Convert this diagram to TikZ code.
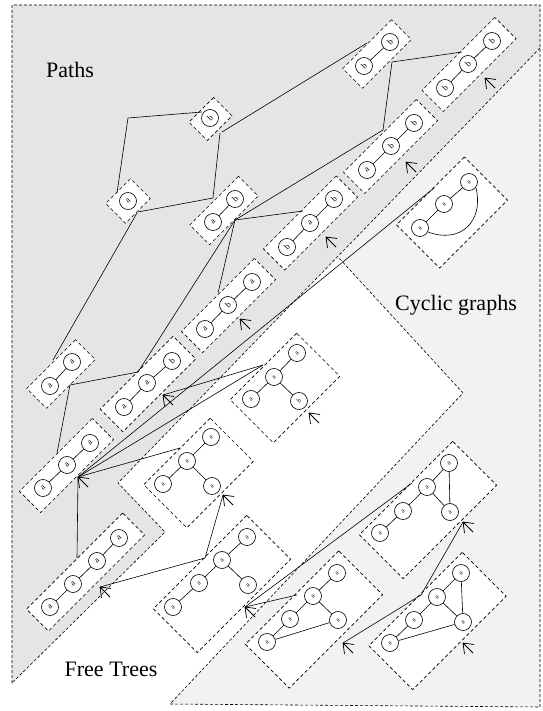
\documentclass[tikz,border=0pt]{standalone}
\usepackage{fontspec}
\setmainfont{Liberation Serif}
\definecolor{pathsgray}{gray}{0.898}
\definecolor{cyclgray}{gray}{0.949}
\begin{document}
\begin{tikzpicture}[x=1pt,y=-1pt,
  region/.style={draw, dash pattern=on 3pt off 2pt, line width=0.6pt},
  gbox/.style={draw, dash pattern=on 3.5pt off 2.5pt, line width=0.6pt, fill=white,
    rotate=45, inner sep=0pt, minimum height=28pt},
  vtx/.style={circle, draw, fill=white, line width=0.6pt, minimum size=17pt,
    inner sep=0pt, font=\fontsize{8.5}{8.5}\selectfont, rotate=45},
  tvtx/.style={vtx, font=\fontsize{6.5}{6.5}\selectfont},
  conn/.style={line width=0.6pt},
  ptr/.style={line width=0.75pt},
  lbl/.style={font=\fontsize{22}{24}\selectfont}]

\useasboundingbox (0,0) rectangle (542,711);
\fill[white] (0,0) rectangle (542,711);

% class regions
\fill[pathsgray] (12,5) -- (540,5) -- (540,48) -- (118,483) -- (165,532) -- (12,683) -- cycle;
\fill[cyclgray] (540,48) -- (338,257) -- (463,393) -- (170,704) -- (540,707) -- cycle;
\draw[region] (12,683) -- (12,5) -- (540,5) -- (540,707) -- (170,704) -- (463,393) -- (338,257);
\draw[region] (540,48) -- (118,483) -- (165,532) -- (12,683);

\node[lbl] (lpaths) at (70,70) {Paths};
\node[lbl] (lcyc) at (456,305) {Cyclic graphs};
\node[lbl] (ltree) at (111,669) {Free Trees};

% pattern boxes
\node[gbox, minimum width=35pt, minimum height=26pt] (bxb) at (210.5,119) {};
\node[gbox, minimum width=35pt] (bxa) at (128,201) {};
\node[gbox, minimum width=69pt] (bxab) at (224,210.5) {};
\node[gbox, minimum width=69pt] (bxbb) at (377,54) {};
\node[gbox, minimum width=69pt] (bxaa) at (61,374) {};
\node[gbox, minimum width=103pt, minimum height=30pt] (bxbab) at (310.5,223) {};
\node[gbox, minimum width=103pt, minimum height=30pt] (bxaba) at (228.5,305.5) {};
\node[gbox, minimum width=103pt, minimum height=32pt] (bxaab) at (148,384) {};
\node[gbox, minimum width=103pt, minimum height=30pt] (bxaaa) at (66.5,465.5) {};
\node[gbox, minimum width=103pt, minimum height=30pt] (bxbbb) at (469,64.5) {};
\node[gbox, minimum width=103pt, minimum height=30pt] (bxabb) at (390.5,146.5) {};
\node[gbox, minimum width=136pt, minimum height=31pt] (bxaaaa) at (85.5,572) {};
\node[gbox, minimum width=94pt, minimum height=61pt] (bxt1) at (285,388) {};
\node[gbox, minimum width=94pt, minimum height=61pt] (bxt2) at (198.5,473) {};
\node[gbox, minimum width=132pt, minimum height=62pt] (bxt3) at (222,584) {};
\node[gbox, minimum width=96pt, minimum height=61pt] (bxc1) at (452,212.5) {};
\node[gbox, minimum width=132pt, minimum height=62pt] (bxc2) at (428,510) {};
\node[gbox, minimum width=132pt, minimum height=62pt] (bxc3) at (314,619.5) {};
\node[gbox, minimum width=132pt, minimum height=62pt] (bxc4) at (437.5,621) {};

% lattice connectors
\coordinate (ka1) at (117,193);
\coordinate (kb1) at (128,118);
\coordinate (kb2) at (202,112);
\coordinate (kb3) at (222,132);
\coordinate (kbb) at (367,43);
\coordinate (ka2) at (138,212);
\coordinate (kab) at (213,198);
\coordinate (kb4) at (220,133);
\coordinate (ka3) at (137,213);
\coordinate (kaa) at (53,360);
\coordinate (jab) at (235,220);
\coordinate (kbab) at (303,211);
\coordinate (kabb) at (383,130);
\coordinate (kaba) at (218,293);
\coordinate (kaab) at (138,372);
\coordinate (kbb2) at (392,62);
\coordinate (kbbb) at (462,52);
\coordinate (jaa) at (70,385);
\coordinate (kaaa) at (57,453);
\coordinate (jaaa) at (78,477);
\coordinate (kaaaa) at (77,558);
\coordinate (kt2) at (180,448);
\coordinate (kt1) at (263,365);
\coordinate (kc1) at (434,188);
\coordinate (maab) at (163,395);
\coordinate (jt3) at (205,558);
\coordinate (maaaa) at (100,587);
\coordinate (mt2) at (223,495);
\coordinate (mt3) at (245,607);
\coordinate (kc3) at (297,595);
\coordinate (kc2) at (412,483);
\coordinate (jc4) at (421,595);
\coordinate (mc3) at (343,643);
\coordinate (mc2) at (463,522);
\coordinate (mbbb) at (485,78);
\coordinate (mabb) at (406,162);
\coordinate (maba) at (240,319);
\coordinate (mt1) at (309,413);
\coordinate (mc4) at (463,643);
\coordinate (mbab) at (326,237);

\draw[conn] (ka1) -- (kb1) -- (kb2);
\draw[conn] (kb3) -- (kbb);
\draw[conn] (ka2) -- (kab) -- (kb4);
\draw[conn] (ka3) -- (kaa);
\draw[conn] (jab) -- (kbab);
\draw[conn] (jab) -- (kabb);
\draw[conn] (jab) -- (kaba);
\draw[conn] (jab) -- (kaab);
\draw[conn] (kabb) -- (kbb2) -- (kbbb);
\draw[conn] (kaab) -- (jaa) -- (kaaa);
\draw[conn] (kaaaa) -- (jaaa);
\draw[conn] (kt2) -- (jaaa);
\draw[conn] (kt1) -- (jaaa);
\draw[conn] (kc1) -- (jaaa);
\draw[conn] (kt1) -- (maab);
\draw[conn] (maaaa) -- (jt3) -- (mt2);
\draw[conn] (kc3) -- (mt3);
\draw[conn] (kc2) -- (mt3);
\draw[conn] (mc3) -- (jc4) -- (mc2);

% pointer marks
\foreach \p in {jaaa,maab,maaaa,mt2,mt3,mc3,mc2,mbbb,mabb,maba,mt1,mc4,mbab}
  \draw[ptr] (\p) -- ++(11,1.5) (\p) -- ++(1.5,11) (\p) -- ++(10,10);

% single vertices
\node[vtx] (vb) at (210,118) {b};
\node[vtx] (va) at (128,201) {a};
% a-b
\node[vtx] (ab1) at (213,222) {a};
\node[vtx] (ab2) at (235,199) {b};
\draw[conn] (ab1) -- (ab2);
% b-b
\node[vtx] (bb1) at (364,66) {b};
\node[vtx] (bb2) at (390,42) {b};
\draw[conn] (bb1) -- (bb2);
% a-a
\node[vtx] (aa1) at (50,386) {a};
\node[vtx] (aa2) at (72,362) {a};
\draw[conn] (aa1) -- (aa2);
% b-a-b
\node[vtx] (bab1) at (287,247) {b};
\node[vtx] (bab2) at (310,223) {a};
\node[vtx] (bab3) at (334,199) {b};
\draw[conn] (bab1) -- (bab2) -- (bab3);
% a-b-a
\node[vtx] (aba1) at (205,329) {a};
\node[vtx] (aba2) at (228,305) {b};
\node[vtx] (aba3) at (252,282) {a};
\draw[conn] (aba1) -- (aba2) -- (aba3);
% a-a-b
\node[vtx] (aab1) at (124,407) {a};
\node[vtx] (aab2) at (147,383) {a};
\node[vtx] (aab3) at (172,361) {b};
\draw[conn] (aab1) -- (aab2) -- (aab3);
% a-a-a
\node[vtx] (aaa1) at (43,488) {a};
\node[vtx] (aaa2) at (67,465) {a};
\node[vtx] (aaa3) at (90,443) {a};
\draw[conn] (aaa1) -- (aaa2) -- (aaa3);
% b-b-b
\node[vtx] (bbb1) at (445,88) {b};
\node[vtx] (bbb2) at (468,64) {b};
\node[vtx] (bbb3) at (492,41) {b};
\draw[conn] (bbb1) -- (bbb2) -- (bbb3);
% a-b-b
\node[vtx] (abb1) at (367,170) {a};
\node[vtx] (abb2) at (391,146) {b};
\node[vtx] (abb3) at (414,123) {b};
\draw[conn] (abb1) -- (abb2) -- (abb3);
% a-a-a-a
\node[vtx] (q1) at (50,607) {a};
\node[vtx] (q2) at (73,584) {a};
\node[vtx] (q3) at (97,561) {a};
\node[vtx] (q4) at (119,538) {a};
\draw[conn] (q1) -- (q2) -- (q3) -- (q4);

% trees
\node[tvtx] (t11) at (251,399) {a};
\node[tvtx] (t12) at (274,377) {a};
\node[tvtx] (t13) at (297,353) {a};
\node[tvtx] (t14) at (299,401) {b};
\draw[conn] (t11) -- (t12) -- (t13) (t12) -- (t14);
\node[tvtx] (t21) at (163,484) {a};
\node[tvtx] (t22) at (187,461) {a};
\node[tvtx] (t23) at (211,437) {a};
\node[tvtx] (t24) at (212,486) {a};
\draw[conn] (t21) -- (t22) -- (t23) (t22) -- (t24);
\node[tvtx] (t31) at (173,607) {a};
\node[tvtx] (t32) at (199,583) {a};
\node[tvtx] (t33) at (222,560) {a};
\node[tvtx] (t34) at (247,537) {a};
\node[tvtx] (t35) at (248,585) {a};
\draw[conn] (t31) -- (t32) -- (t33) -- (t34) (t33) -- (t35);

% cyclic graphs
\node[tvtx] (c11) at (420,228) {a};
\node[tvtx] (c12) at (444,204) {a};
\node[tvtx] (c13) at (469,182) {a};
\draw[conn] (c11) -- (c12) -- (c13);
\draw[conn] (476,188) .. controls (484,222) and (460,244) .. (428,232);
\node[tvtx] (c21) at (380,533) {a};
\node[tvtx] (c22) at (403,511) {a};
\node[tvtx] (c23) at (427,487) {a};
\node[tvtx] (c24) at (449,463) {a};
\node[tvtx] (c25) at (450,512) {a};
\draw[conn] (c21) -- (c22) -- (c23) -- (c24) -- (c25) -- (c23);
\node[tvtx] (c31) at (267,642) {a};
\node[tvtx] (c32) at (290,619) {a};
\node[tvtx] (c33) at (313,596) {a};
\node[tvtx] (c34) at (337,573) {a};
\node[tvtx] (c35) at (338,620) {a};
\draw[conn] (c31) -- (c32) -- (c33) -- (c34) (c33) -- (c35) -- (c31);
\node[tvtx] (c41) at (390,643) {a};
\node[tvtx] (c42) at (414,620) {a};
\node[tvtx] (c43) at (437,597) {a};
\node[tvtx] (c44) at (461,573) {a};
\node[tvtx] (c45) at (463,622) {a};
\draw[conn] (c41) -- (c42) -- (c43) -- (c44) -- (c45) -- (c43) (c45) -- (c41);
\end{tikzpicture}
\end{document}
